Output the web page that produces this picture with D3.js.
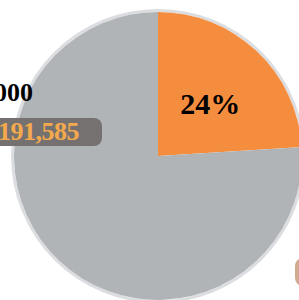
<!DOCTYPE html>
<html>
<head>
<meta charset="utf-8">
<script src="https://cdn.jsdelivr.net/npm/d3@7"></script>
<style>
  body { margin: 0; background: #fff; }
  svg { display: block; }
</style>
</head>
<body>
<div id="chart"></div>
<script>
// slice data (percent of total)
var categories = ["Over $100,000", "Other"];
var shares = [24, 76];
var sliceColors = ["#f58d3f", "#b1b4b7"];

// callout label data
var calloutTitle = "Over $100,000";
var calloutValue = "191,585";

var width = 299, height = 300;
var cx = 158, cy = 156, radius = 144;

var svg = d3.select("#chart")
    .append("svg")
    .attr("width", width)
    .attr("height", height);

var pieData = d3.pie().sort(null).value(function (d) { return d; })(shares);
var arc = d3.arc().innerRadius(0).outerRadius(radius);

var g = svg.append("g")
    .attr("transform", "translate(" + cx + "," + cy + ")");

// outer light ring
g.append("circle")
    .attr("r", radius + 1.5)
    .style("fill", "none")
    .style("stroke", "#dcdde0")
    .style("stroke-width", 3);

g.selectAll("path.slice")
    .data(pieData)
    .enter().append("path")
    .attr("class", "slice")
    .attr("d", arc)
    .style("fill", function (d, i) { return sliceColors[i]; });

// percent label on the small slice
var labelArc = d3.arc().innerRadius(radius * 0.5).outerRadius(radius * 0.5);
g.append("text")
    .attr("transform", function () {
        var c = labelArc.centroid(pieData[0]);
        return "translate(" + (c[0] + 3) + "," + c[1] + ")";
    })
    .attr("dy", "0.35em")
    .style("text-anchor", "middle")
    .style("font-family", "'Liberation Serif', 'DejaVu Serif', serif")
    .style("font-weight", "bold")
    .style("font-size", "30px")
    .style("fill", "#000")
    .text(shares[0] + "%");

// left callout (cut off by the edge)
svg.append("text")
    .attr("x", 33)
    .attr("y", 101)
    .style("text-anchor", "end")
    .style("font-family", "'Liberation Serif', 'DejaVu Serif', serif")
    .style("font-weight", "bold")
    .style("font-size", "26px")
    .style("fill", "#000")
    .text(calloutTitle);

svg.append("rect")
    .attr("x", -20)
    .attr("y", 118)
    .attr("width", 122)
    .attr("height", 28)
    .attr("rx", 8)
    .style("fill", "#747170");

svg.append("text")
    .attr("x", 79)
    .attr("y", 140)
    .style("text-anchor", "end")
    .style("font-family", "'Liberation Serif', 'DejaVu Serif', serif")
    .style("font-weight", "bold")
    .style("font-size", "26px")
    .style("letter-spacing", "-0.5px")
    .style("fill", "#f5a94d")
    .text(calloutValue);

// second callout box, mostly off the right edge
svg.append("rect")
    .attr("x", 295)
    .attr("y", 258)
    .attr("width", 80)
    .attr("height", 28)
    .attr("rx", 8)
    .style("fill", "#d0ab90");
</script>
</body>
</html>
